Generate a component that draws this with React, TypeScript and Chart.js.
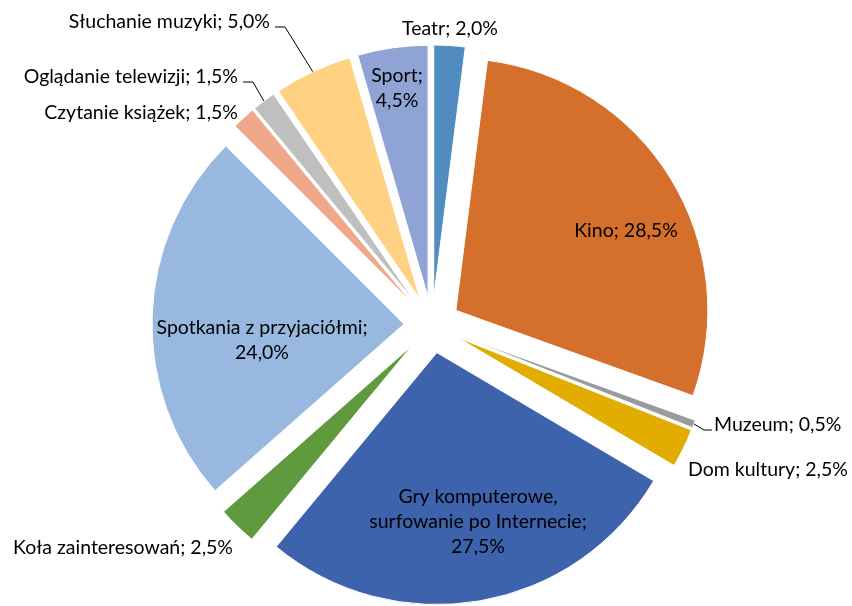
import React, { useEffect, useRef } from "react";
import { Chart, registerables } from "chart.js";

Chart.register(...registerables);

// Category names, split into the lines they are printed on
const categoryLines: string[][] = [
  ["Teatr"],
  ["Kino"],
  ["Muzeum"],
  ["Dom kultury"],
  ["Gry komputerowe,", "surfowanie po Internecie"],
  ["Koła zainteresowań"],
  ["Spotkania z przyjaciółmi"],
  ["Czytanie książek"],
  ["Oglądanie telewizji"],
  ["Słuchanie muzyki"],
  ["Sport"],
];

// Share of respondents, in percent
const shares: number[] = [2.0, 28.5, 0.5, 2.5, 27.5, 2.5, 24.0, 1.5, 1.5, 5.0, 4.5];

// Whether the value is printed on its own line below the name
const valueOnNewLine: boolean[] = [false, false, false, false, true, false, true, false, false, false, true];

const sliceColors: string[] = [
  "#508cc0",
  "#d4702c",
  "#9a9a9a",
  "#e2ac00",
  "#3e63ad",
  "#5f9a3e",
  "#98b8df",
  "#f0a88a",
  "#bfbfbf",
  "#ffd182",
  "#8fa4d5",
];

// Label placement relative to the pie centre
type LabelPlace = { dx: number; dy: number; align: CanvasTextAlign; leader?: boolean };
const labelPlaces: LabelPlace[] = [
  { dx: 18, dy: -296, align: "center" },
  { dx: 194, dy: -94, align: "center" },
  { dx: 282, dy: 100, align: "left", leader: true },
  { dx: 256, dy: 145, align: "left" },
  { dx: 46, dy: 197, align: "center" },
  { dx: -199, dy: 223, align: "right" },
  { dx: -170, dy: 15, align: "center" },
  { dx: -194, dy: -212, align: "right" },
  { dx: -194, dy: -248, align: "right", leader: true },
  { dx: -162, dy: -303, align: "right", leader: true },
  { dx: -35, dy: -237, align: "center" },
];

const EXPLODE = 28;
const PIE_RADIUS = 252;
const FONT = "19.5px Lato, 'Open Sans', sans-serif";
const LINE_HEIGHT = 25;

const formatShare = (v: number) => v.toFixed(1).replace(".", ",") + "%";

// Draws every slice pushed outwards along its bisector
const explodedSlices = {
  id: "explodedSlices",
  beforeDatasetDraw(chart: any, args: any) {
    const ctx: CanvasRenderingContext2D = chart.ctx;
    args.meta.data.forEach((arc: any) => {
      const { startAngle, endAngle } = arc.getProps(["startAngle", "endAngle"], true);
      const mid = (startAngle + endAngle) / 2;
      ctx.save();
      ctx.translate(Math.cos(mid) * EXPLODE, Math.sin(mid) * EXPLODE);
      arc.draw(ctx);
      ctx.restore();
    });
    return false;
  },
};

// Category / value labels with leader lines for the small outer ones
const sliceLabels = {
  id: "sliceLabels",
  afterDraw(chart: any) {
    const ctx: CanvasRenderingContext2D = chart.ctx;
    const meta = chart.getDatasetMeta(0);
    ctx.save();
    ctx.font = FONT;
    ctx.fillStyle = "#000000";
    ctx.textBaseline = "middle";
    meta.data.forEach((arc: any, i: number) => {
      const { x, y, startAngle, endAngle, outerRadius } = arc.getProps(
        ["x", "y", "startAngle", "endAngle", "outerRadius"],
        true
      );
      const place = labelPlaces[i];
      const value = formatShare(shares[i]);
      const names = categoryLines[i].slice();
      let lines: string[];
      if (valueOnNewLine[i]) {
        names[names.length - 1] = names[names.length - 1] + ";";
        lines = [...names, value];
      } else {
        names[names.length - 1] = names[names.length - 1] + "; " + value;
        lines = names;
      }
      const ax = x + place.dx;
      const ay = y + place.dy;
      const top = ay - ((lines.length - 1) * LINE_HEIGHT) / 2;
      ctx.textAlign = place.align;
      lines.forEach((line, k) => ctx.fillText(line, ax, top + k * LINE_HEIGHT));

      if (place.leader) {
        const mid = (startAngle + endAngle) / 2;
        const ex = x + Math.cos(mid) * (EXPLODE + outerRadius);
        const ey = y + Math.sin(mid) * (EXPLODE + outerRadius);
        const ly = ay + 5;
        let sx: number, bx: number;
        if (place.align === "right") {
          sx = ax + 5;
          bx = sx + 10;
        } else {
          sx = ax - 2;
          bx = sx - 8;
        }
        ctx.beginPath();
        ctx.strokeStyle = "#000000";
        ctx.lineWidth = 1;
        ctx.moveTo(sx, ly);
        ctx.lineTo(bx, ly);
        ctx.lineTo(ex, ey);
        ctx.stroke();
      }
    });
    ctx.restore();
  },
};

export default function App() {
  const canvasRef = useRef<HTMLCanvasElement | null>(null);

  useEffect(() => {
    document.body.style.margin = "0";
    const canvas = canvasRef.current;
    if (!canvas) return;
    const chart = new Chart(canvas, {
      type: "pie",
      data: {
        labels: categoryLines.map((l) => l.join(" ")),
        datasets: [
          {
            data: shares,
            backgroundColor: sliceColors,
            borderColor: "#ffffff",
            borderWidth: 1,
          },
        ],
      },
      options: {
        responsive: false,
        animation: false,
        radius: PIE_RADIUS,
        layout: { padding: { left: 12, right: 0, top: 44, bottom: 0 } },
        plugins: {
          legend: { display: false },
          tooltip: { enabled: false },
        },
      },
      plugins: [explodedSlices, sliceLabels],
    });
    return () => chart.destroy();
  }, []);

  return (
    <div style={{ width: 852, height: 606, background: "#ffffff" }}>
      <canvas ref={canvasRef} width={852} height={606} style={{ display: "block" }} />
    </div>
  );
}
